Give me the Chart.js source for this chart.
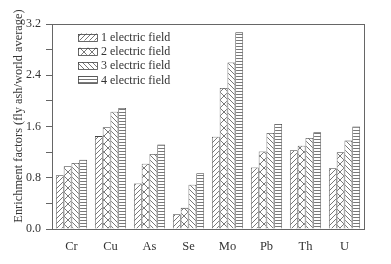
<!DOCTYPE html>
<html>
<head>
<meta charset="utf-8">
<script src="https://cdn.jsdelivr.net/npm/chart.js@4"></script>
<style>
  html, body { margin: 0; padding: 0; background: #fff; }
  #wrap { width: 391px; height: 264px; }
</style>
</head>
<body>
<div id="wrap"><canvas id="c" width="391" height="264"></canvas></div>
<script>
const elements = ["Cr", "Cu", "As", "Se", "Mo", "Pb", "Th", "U"];
const field1 = [0.84, 1.45, 0.71, 0.23, 1.44, 0.96, 1.23, 0.95];
const field2 = [0.98, 1.59, 1.02, 0.33, 2.20, 1.21, 1.30, 1.20];
const field3 = [1.03, 1.83, 1.17, 0.69, 2.60, 1.50, 1.42, 1.38];
const field4 = [1.08, 1.89, 1.32, 0.87, 3.07, 1.64, 1.51, 1.60];
const seriesLabels = ["1 electric field", "2 electric field", "3 electric field", "4 electric field"];
const yTitle = "Enrichment factors (fly ash/world average)";

const FONT = "'Liberation Serif', 'Times New Roman', Times, serif";
const LINE = "#555";

// hatch fills, one per electric field
function hatch(kind) {
  const s = kind === "h" ? 3 : (kind === "x" ? 8 : 5);
  const cv = document.createElement("canvas");
  cv.width = s; cv.height = s;
  const g = cv.getContext("2d");
  g.fillStyle = "#fff";
  g.fillRect(0, 0, s, s);
  g.strokeStyle = LINE;
  g.lineWidth = 0.8;
  g.beginPath();
  if (kind === "/" || kind === "x") {
    g.moveTo(-1, s + 1); g.lineTo(s + 1, -1);
    g.moveTo(-1, 1); g.lineTo(1, -1);
    g.moveTo(s - 1, s + 1); g.lineTo(s + 1, s - 1);
  }
  if (kind === "\\" || kind === "x") {
    g.moveTo(-1, -1); g.lineTo(s + 1, s + 1);
    g.moveTo(s - 1, -1); g.lineTo(s + 1, 1);
    g.moveTo(-1, s - 1); g.lineTo(1, s + 1);
  }
  if (kind === "h") {
    g.moveTo(0, 1.5); g.lineTo(s, 1.5);
  }
  g.stroke();
  return g.createPattern(cv, "repeat");
}

const boxPlugin = {
  id: "box",
  afterDraw(chart) {
    const { ctx, chartArea: a } = chart;
    ctx.save();
    ctx.strokeStyle = "#666";
    ctx.lineWidth = 1;
    ctx.strokeRect(a.left + 0.5, a.top + 0.5, a.right - a.left, a.bottom - a.top);

    // y title, sits a little above the centre of the axis like the original
    ctx.fillStyle = "#333";
    ctx.font = "12.4px " + FONT;
    ctx.textAlign = "center";
    ctx.textBaseline = "middle";
    ctx.translate(19, 116);
    ctx.rotate(-Math.PI / 2);
    ctx.fillText(yTitle, 0, 0);
    ctx.restore();

    // legend inside the plot
    ctx.save();
    ctx.font = "12px " + FONT;
    ctx.textBaseline = "middle";
    chart.data.datasets.forEach((ds, i) => {
      const y = 37 + i * 14.3;
      ctx.fillStyle = ds.backgroundColor;
      ctx.fillRect(78, y - 3.5, 19, 7);
      ctx.strokeStyle = "#444";
      ctx.lineWidth = 0.8;
      ctx.strokeRect(78.5, Math.round(y - 3.5) + 0.5, 19, 7);
      ctx.fillStyle = "#333";
      ctx.fillText(ds.label, 101, y + 0.5);
    });
    ctx.restore();
  },
};

const fills = [hatch("/"), hatch("x"), hatch("\\"), hatch("h")];
const values = [field1, field2, field3, field4];

new Chart(document.getElementById("c"), {
  type: "bar",
  data: {
    labels: elements,
    datasets: values.map((v, i) => ({
      label: seriesLabels[i],
      data: v,
      backgroundColor: fills[i],
      borderColor: "#444",
      borderWidth: 0.8,
      categoryPercentage: 0.8,
      barPercentage: 1.0,
    })),
  },
  options: {
    responsive: false,
    animation: false,
    layout: { padding: { top: 24, right: 27, left: 0, bottom: 0 } },
    plugins: { legend: { display: false }, tooltip: { enabled: false } },
    scales: {
      x: {
        grid: { display: false, drawTicks: false },
        border: { display: false },
        ticks: { color: "#333", padding: 10, font: { family: FONT, size: 12.5 } },
        afterFit(s) { s.height = 35; },
      },
      y: {
        min: 0,
        max: 3.2,
        grid: { drawOnChartArea: false, drawTicks: true, tickLength: 6, color: "#666" },
        border: { display: false },
        ticks: {
          stepSize: 0.4,
          color: "#333",
          padding: 5,
          font: { family: FONT, size: 12 },
          callback: (v) => (Math.round(v * 10) % 8 === 0 ? v.toFixed(1) : ""),
        },
        afterFit(s) { s.width = 52; },
      },
    },
  },
  plugins: [boxPlugin],
});
</script>
</body>
</html>
